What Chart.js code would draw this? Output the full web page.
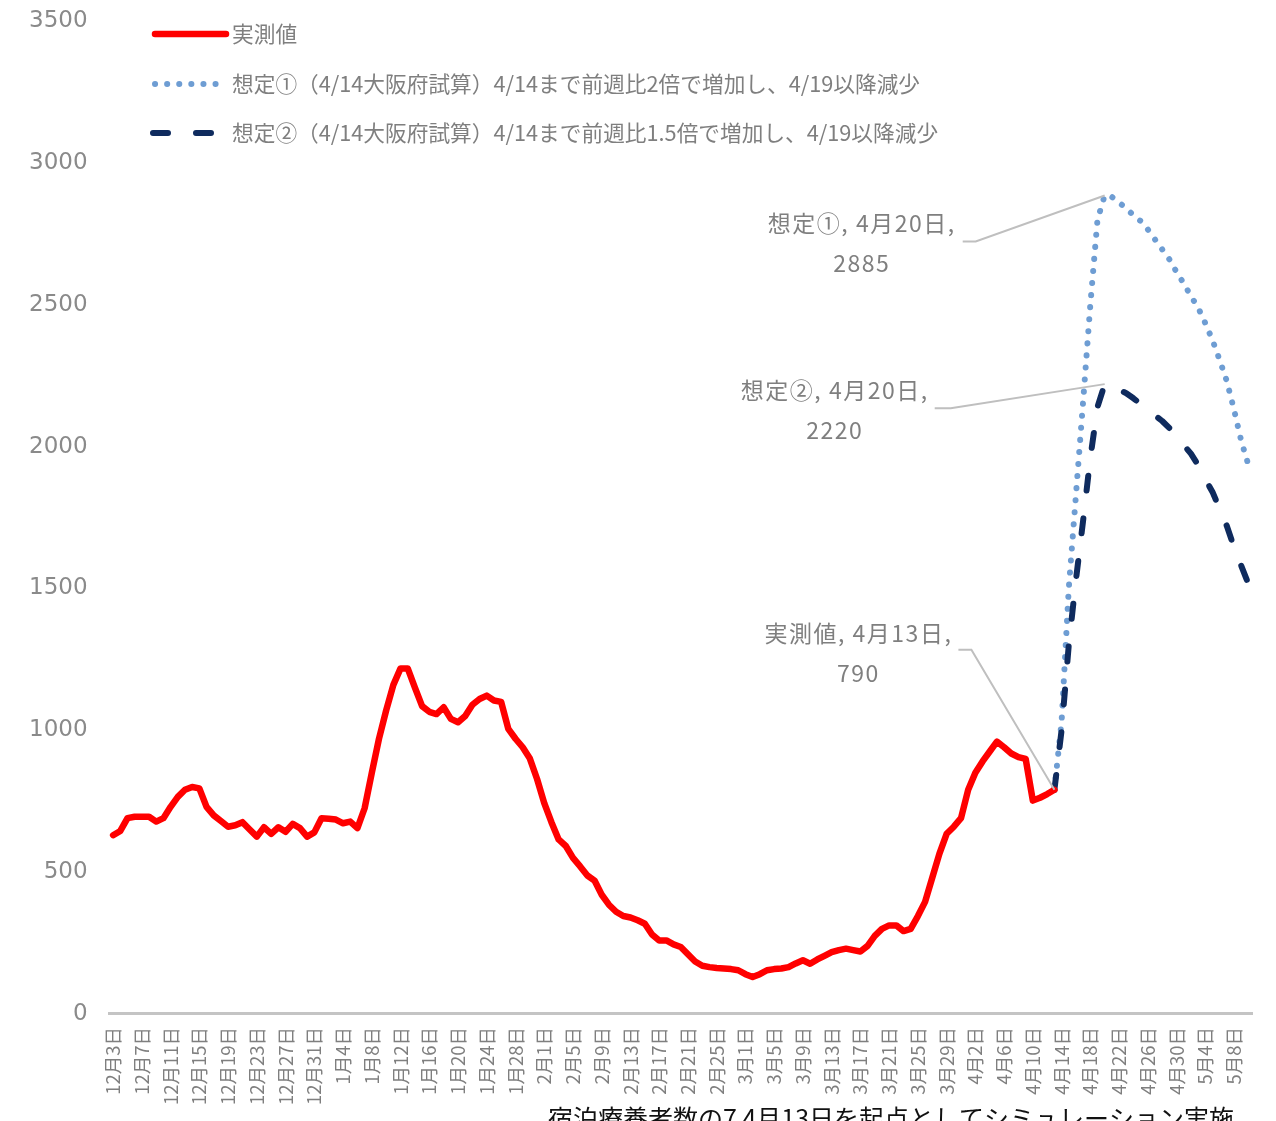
<!DOCTYPE html>
<html>
<head>
<meta charset="utf-8">
<script src="https://cdn.jsdelivr.net/npm/chart.js@4.4.1/dist/chart.umd.min.js"></script>
<style>
html,body{margin:0;padding:0;background:#fff;}
#wrap{width:1276px;height:1121px;position:relative;}
</style>
</head>
<body>
<div id="wrap"><canvas id="c" width="1276" height="1121"></canvas></div>
<script>
// ---- data ----
const startMonth = 12, startDay = 3, startYear = 2020;
const dayCount = 159; // 12月3日 .. 5月10日
const seriesNames = ['実測値',
  '想定①（4/14大阪府試算）4/14まで前週比2倍で増加し、4/19以降減少',
  '想定②（4/14大阪府試算）4/14まで前週比1.5倍で増加し、4/19以降減少'];
const actual = [630,645,690,695,695,695,678,690,730,765,
  790,800,795,730,700,680,660,665,676,650,
  625,658,635,658,642,670,655,625,640,690,
  688,685,672,678,655,725,850,970,1070,1160,
  1218,1218,1150,1085,1065,1057,1081,1040,1028,1050,
  1090,1110,1122,1105,1100,1005,970,940,900,828,
  743,676,615,592,550,520,488,470,420,385,
  360,345,340,330,318,280,259,259,245,236,
  210,185,170,165,162,160,158,154,140,130,
  140,154,158,160,165,178,189,177,192,205,
  218,225,230,225,220,240,275,300,312,312,
  292,300,345,395,480,565,635,660,690,790,
  850,890,925,960,940,918,905,899,752,762,
  775,790];
const projStart = 131; // 4月13日
const scenario1 = [790,1030,1500,1830,2160,2500,2800,2885,2880,2860,2840,2815,2795,2765,2730,2695,2660,2615,2575,2530,2490,2435,2375,2305,2230,2130,2020,1935];
const scenario2 = [790,1000,1300,1530,1740,1960,2140,2220,2210,2200,2188,2170,2150,2130,2110,2090,2065,2035,2005,1975,1935,1885,1840,1780,1720,1645,1580,1516];
const yTicks = [0,500,1000,1500,2000,2500,3000,3500];
const footnote = '宿泊療養者数の7 4月13日を起点としてシミュレーション実施';

// categories
const labels = [];
{
  const d = new Date(startYear, startMonth - 1, startDay);
  for (let i = 0; i < dayCount; i++) {
    labels.push((d.getMonth() + 1) + '月' + d.getDate() + '日');
    d.setDate(d.getDate() + 1);
  }
}
const pad = n => Array(n).fill(null);
const s1 = pad(projStart).concat(scenario1);
const s2 = pad(projStart).concat(scenario2);

const GRAY = '#7f7f7f';
const JP = '"Noto Sans CJK JP", "Noto Sans", sans-serif';

// annotations: dataset, index, text offsets relative to the data point
const annotations = [
  {ds: 1, idx: projStart + 7, lines: ['想定①, 4月20日,', String(scenario1[7])], tx: -243, ty1: 28, ty2: 68, ex: -129, ey: 46, hx: -142},
  {ds: 2, idx: projStart + 7, lines: ['想定②, 4月20日,', String(scenario2[7])], tx: -270, ty1: 6, ty2: 46, ex: -154, ey: 24, hx: -170},
  {ds: 0, idx: projStart, lines: ['実測値, 4月13日,', String(actual[projStart])], tx: -196, ty1: -157, ty2: -117, ex: -83, ey: -140, hx: -96}
];

const extras = {
  id: 'extras',
  afterDatasetsDraw(chart) {
    const ctx = chart.ctx;
    ctx.save();
    // leader lines + labels
    annotations.forEach(a => {
      const pt = chart.getDatasetMeta(a.ds).data[a.idx];
      const x = pt.x, y = pt.y;
      ctx.strokeStyle = '#bfbfbf';
      ctx.lineWidth = 2;
      ctx.setLineDash([]);
      ctx.beginPath();
      ctx.moveTo(x, y);
      ctx.lineTo(x + a.ex, y + a.ey);
      ctx.lineTo(x + a.hx, y + a.ey);
      ctx.stroke();
      ctx.fillStyle = GRAY;
      ctx.font = '23px ' + JP;
      ctx.letterSpacing = '1.5px';
      ctx.textAlign = 'center';
      ctx.textBaseline = 'middle';
      ctx.fillText(a.lines[0], x + a.tx, y + a.ty1);
      ctx.fillText(a.lines[1], x + a.tx, y + a.ty2);
      ctx.letterSpacing = '0px';
    });
    // legend
    const rows = [34, 84, 133];
    chart.data.datasets.forEach((ds, i) => {
      const yy = rows[i];
      ctx.strokeStyle = ds.borderColor;
      ctx.lineWidth = ds.borderWidth;
      ctx.lineCap = ds.borderCapStyle || 'butt';
      ctx.setLineDash(ds.borderDash || []);
      ctx.beginPath();
      if (i === 0) { ctx.moveTo(155, yy); ctx.lineTo(226, yy); }
      else if (i === 1) { ctx.moveTo(155, yy); ctx.lineTo(222, yy); }
      else { ctx.moveTo(153, yy); ctx.lineTo(224, yy); }
      ctx.stroke();
      ctx.setLineDash([]);
      ctx.fillStyle = GRAY;
      ctx.font = '21.7px ' + JP;
      ctx.textAlign = 'left';
      ctx.textBaseline = 'middle';
      ctx.fillText(ds.label, 232, yy);
    });
    // footnote (cut by the bottom edge)
    ctx.fillStyle = '#111';
    ctx.font = '25px ' + JP;
    ctx.textAlign = 'left';
    ctx.textBaseline = 'top';
    ctx.fillText(footnote, 548, 1106);
    ctx.restore();
  }
};

new Chart(document.getElementById('c'), {
  type: 'line',
  data: {
    labels: labels,
    datasets: [
      {label: seriesNames[0], data: actual, borderColor: '#ff0000', borderWidth: 6.5,
       borderCapStyle: 'round', borderJoinStyle: 'round', pointRadius: 0, order: 0},
      {label: seriesNames[1], data: s1, borderColor: '#6e9dd3', borderWidth: 6,
       borderDash: [0.1, 12], borderCapStyle: 'round', borderJoinStyle: 'round', pointRadius: 0, order: 2},
      {label: seriesNames[2], data: s2, borderColor: '#0f2b5e', borderWidth: 6,
       borderDash: [15, 28], borderCapStyle: 'round', borderJoinStyle: 'round', pointRadius: 0, order: 1}
    ]
  },
  options: {
    responsive: false,
    animation: false,
    devicePixelRatio: 1,
    layout: {padding: {left: 7, right: 24, top: 21, bottom: 3}},
    plugins: {legend: {display: false}, tooltip: {enabled: false}},
    elements: {line: {tension: 0}},
    scales: {
      x: {
        offset: true,
        grid: {display: true, color: 'rgba(0,0,0,0)', drawTicks: false},
        border: {display: true, color: '#c4c4c4', width: 3},
        ticks: {
          autoSkip: false, maxRotation: 90, minRotation: 90, padding: 13,
          color: GRAY, font: {family: JP, size: 18.5},
          callback: (v, i) => (i % 4 === 0 ? labels[i] : '')
        },
        afterFit: s => { s.paddingTop = 0; s.paddingLeft = 0; s.paddingRight = 0; }
      },
      y: {
        min: 0, max: 3500,
        afterBuildTicks: s => { s.ticks = yTicks.map(v => ({value: v})); },
        afterFit: s => { s.paddingTop = 0; s.paddingBottom = 0; },
        grid: {display: false, drawTicks: false},
        border: {display: false},
        ticks: {color: '#8a8a8a', padding: 22, font: {family: '"DejaVu Sans", Verdana, sans-serif', size: 23},
          callback: v => String(v)}
      }
    }
  },
  plugins: [extras]
});
</script>
</body>
</html>
